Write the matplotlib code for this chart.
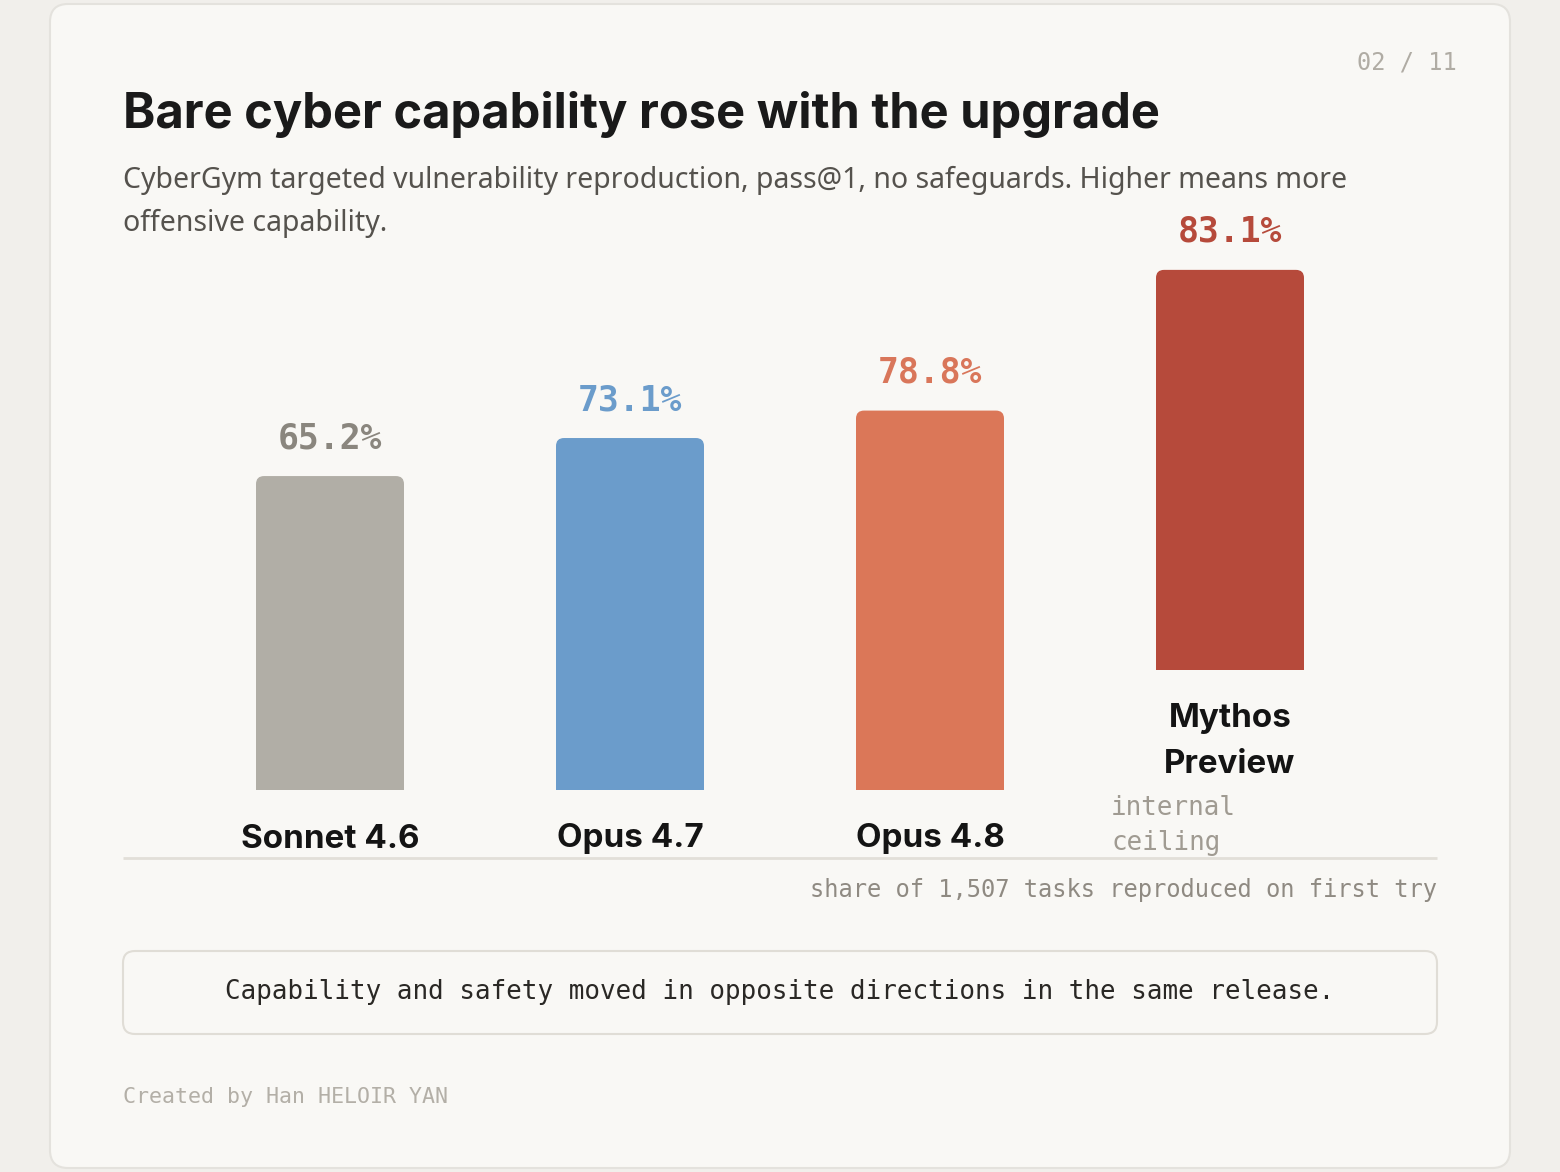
import matplotlib
matplotlib.use("Agg")
import matplotlib.pyplot as plt
from matplotlib import font_manager
from matplotlib.patches import FancyBboxPatch

# Data
models = ["Sonnet 4.6", "Opus 4.7", "Opus 4.8", "Mythos\nPreview"]
scores = [65.2, 73.1, 78.8, 83.1]
bar_colors = ["#b1aea6", "#6b9ccb", "#db7758", "#b64a3b"]
label_colors = ["#8a867e", "#6b9ccb", "#d9765a", "#b64a3b"]

W, H = 1560, 1172


def pick_bold(cands):
    # first family that actually ships a bold face
    for name in cands:
        for e in font_manager.fontManager.ttflist:
            if e.name == name and e.weight in (600, 700, "bold", "semibold", "demibold"):
                return name
    return "DejaVu Sans"


SANS = ["Noto Sans", "DejaVu Sans"]
BOLD = [pick_bold(["Inter", "Roboto", "Lato", "Open Sans", "Noto Sans", "Liberation Sans"])]
MONO = ["DejaVu Sans Mono"]

fig = plt.figure(figsize=(W / 100, H / 100), dpi=100)
fig.patch.set_facecolor("#f1efeb")

# Background axes in pixel units (y down)
bg = fig.add_axes([0, 0, 1, 1])
bg.set_xlim(0, W)
bg.set_ylim(H, 0)
bg.axis("off")

card = FancyBboxPatch((50, 4), 1460, 1164, boxstyle="round,pad=0,rounding_size=18",
                      facecolor="#f9f8f5", edgecolor="#e4e2dd", linewidth=1.5)
bg.add_patch(card)

bg.text(1457, 62, "02 / 11", ha="right", va="center", family=MONO, fontsize=17, color="#b0aca4")
bg.text(123, 115, "Bare cyber capability rose with the upgrade", ha="left", va="center",
        family=BOLD, fontsize=35.2, fontweight="bold", color="#1a1a1a")
bg.text(123, 180, "CyberGym targeted vulnerability reproduction, pass@1, no safeguards. Higher means more",
        ha="left", va="center", family=SANS, fontsize=20.5, color="#55524d")
bg.text(123, 223, "offensive capability.", ha="left", va="center", family=SANS, fontsize=20.5, color="#55524d")

# baseline rule and axis note
bg.plot([123, 1437], [858, 858], color="#e2dfd8", linewidth=2, solid_capstyle="butt")
bg.text(1437, 890, "share of 1,507 tasks reproduced on first try", ha="right", va="center",
        family=MONO, fontsize=17.1, color="#8f8a82")
bg.text(1111, 825.5, "internal\nceiling", ha="left", va="center", family=MONO, fontsize=18.6,
        color="#a09b92", linespacing=1.42)

# takeaway box
box = FancyBboxPatch((123, 951), 1314, 83, boxstyle="round,pad=0,rounding_size=12",
                     facecolor="#f9f8f5", edgecolor="#e0ddd6", linewidth=1.5)
bg.add_patch(box)
bg.text(780, 992, "Capability and safety moved in opposite directions in the same release.",
        ha="center", va="center", family=MONO, fontsize=18.6, color="#2a2825")
bg.text(123, 1097, "Created by Han HELOIR YAN", ha="left", va="center", family=MONO,
        fontsize=15.6, color="#b3afa7")

# Bar axes: 300 px per category, 4.815 px per percentage point
px_per_pt = 4.815
ax_bottom_px, ax_top_px = 790, 200
ax = fig.add_axes([180 / W, (H - ax_bottom_px) / H, 1200 / W, (ax_bottom_px - ax_top_px) / H])
ax.set_xlim(-0.5, 3.5)
ax.set_ylim(0, (ax_bottom_px - ax_top_px) / px_per_pt)
ax.axis("off")
ax.patch.set_alpha(0)

bottoms = [0, 0, 0, 120 / px_per_pt]  # last bar lifted above its two-line label
xs = range(len(models))
bar_w = 148 / 300
bars = ax.bar(xs, scores, width=bar_w, bottom=bottoms, color=bar_colors, linewidth=0)

# rounded top corners
r_px = 8
r_x = r_px / 300
r_y = r_px / px_per_pt
for b, c in zip(bars, bar_colors):
    x0, y0, w, h = b.get_x(), b.get_y(), b.get_width(), b.get_height()
    b.set_height(h - r_y)
    ax.add_patch(FancyBboxPatch((x0, y0), w, h, boxstyle=f"round,pad=0,rounding_size={r_x}",
                                mutation_aspect=r_y / r_x, facecolor=c, linewidth=0))

for i, (s, b0) in enumerate(zip(scores, bottoms)):
    ax.annotate(f"{s:.1f}%", (i, b0 + s), xytext=(0, 38), textcoords="offset pixels",
                ha="center", va="center", family=MONO, fontsize=25, fontweight="bold",
                color=label_colors[i])
    ax.annotate(models[i], (i, b0), xytext=(0, -33.5), textcoords="offset pixels",
                ha="center", va="top", family=BOLD, fontsize=23.9, fontweight="bold",
                color="#141414", linespacing=1.62, annotation_clip=False)

fig.savefig("out.png", dpi=100, facecolor=fig.get_facecolor())
